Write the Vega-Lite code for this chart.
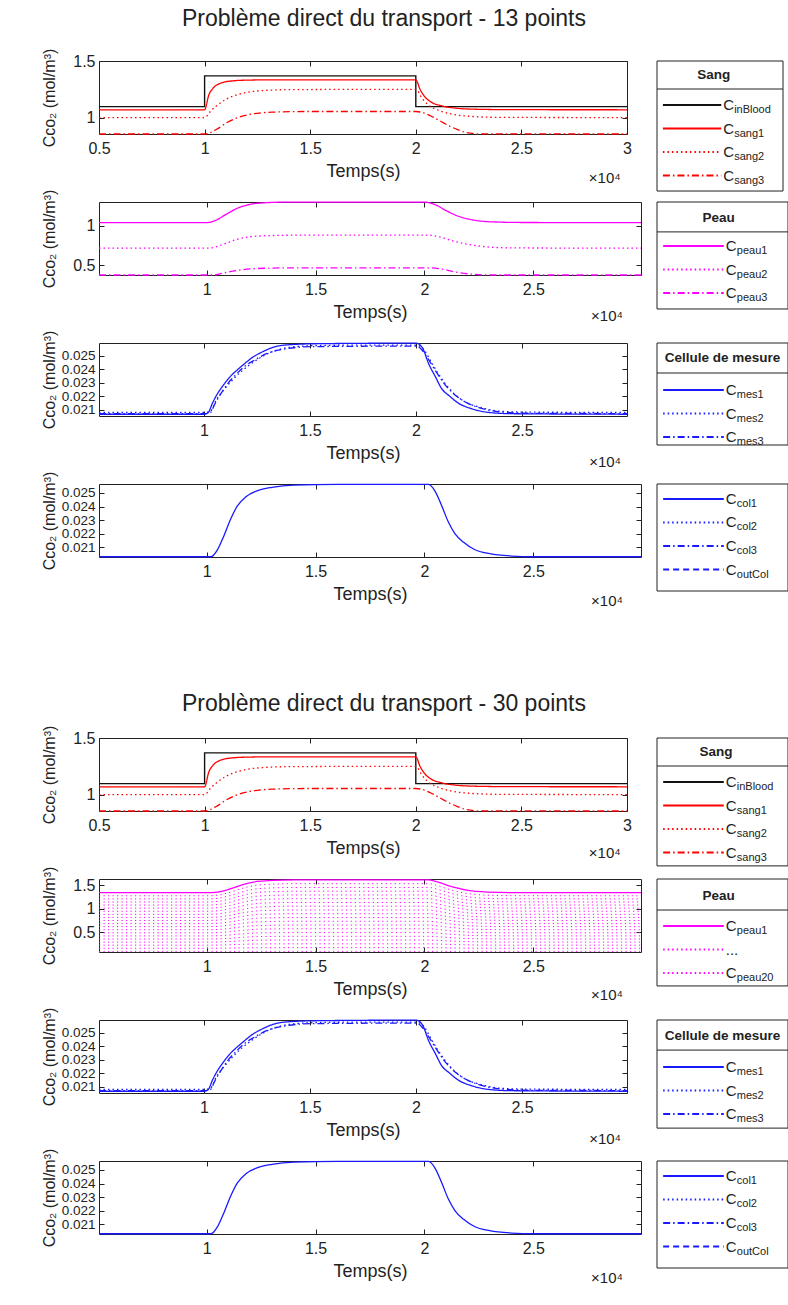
{
"$schema": "https://vega.github.io/schema/vega-lite/v6.json",
"background": "white",
"padding": {"left": 40, "top": 7, "right": 0, "bottom": 5},
"config": {
 "font": "Liberation Sans, Arial, sans-serif",
 "view": {"stroke": "#222", "strokeWidth": 1},
 "axis": {"domain": false, "grid": false, "tickSize": -5, "tickColor": "#222", "labelFontSize": 16, "labelColor": "#222", "labelOverlap": false, "labelFlush": false, "titleFontSize": 18, "titleFontWeight": "normal", "titleColor": "#222"},
 "axisX": {"labelPadding": 11, "titlePadding": 6},
 "axisY": {"labelPadding": 9, "titleFontSize": 16, "titleX": -50, "titleBaseline": "middle", "titleFont": "Liberation Sans, DejaVu Sans"},
 "line": {"strokeWidth": 1.3}
},
"datasets": {
 "inb": [{"i":0,"x":0.5,"y":1.097},{"i":1,"x":1,"y":1.097},{"i":2,"x":1,"y":1.369},{"i":3,"x":2,"y":1.369},{"i":4,"x":2,"y":1.097},{"i":5,"x":3,"y":1.097}],
 "sang": [
  {"s":"s1","x":0.5,"y":1.069},{"s":"s1","x":1,"y":1.069},{"s":"s1","x":1.02,"y":1.2},{"s":"s1","x":1.04,"y":1.26},{"s":"s1","x":1.07,"y":1.3},{"s":"s1","x":1.12,"y":1.322},{"s":"s1","x":1.2,"y":1.331},{"s":"s1","x":1.35,"y":1.334},{"s":"s1","x":2,"y":1.334},{"s":"s1","x":2.02,"y":1.25},{"s":"s1","x":2.04,"y":1.19},{"s":"s1","x":2.07,"y":1.14},{"s":"s1","x":2.12,"y":1.105},{"s":"s1","x":2.18,"y":1.085},{"s":"s1","x":2.28,"y":1.074},{"s":"s1","x":2.45,"y":1.07},{"s":"s1","x":3,"y":1.069},
  {"s":"s2","x":0.5,"y":1.0},{"s":"s2","x":1,"y":1.0},{"s":"s2","x":1.03,"y":1.06},{"s":"s2","x":1.06,"y":1.11},{"s":"s2","x":1.1,"y":1.16},{"s":"s2","x":1.16,"y":1.205},{"s":"s2","x":1.25,"y":1.235},{"s":"s2","x":1.4,"y":1.247},{"s":"s2","x":2,"y":1.25},{"s":"s2","x":2.03,"y":1.17},{"s":"s2","x":2.06,"y":1.11},{"s":"s2","x":2.1,"y":1.07},{"s":"s2","x":2.16,"y":1.035},{"s":"s2","x":2.25,"y":1.012},{"s":"s2","x":2.4,"y":1.002},{"s":"s2","x":3,"y":1.0},
  {"s":"s3","x":0.5,"y":0.855},{"s":"s3","x":1,"y":0.855},{"s":"s3","x":1.03,"y":0.87},{"s":"s3","x":1.06,"y":0.9},{"s":"s3","x":1.1,"y":0.95},{"s":"s3","x":1.15,"y":0.995},{"s":"s3","x":1.22,"y":1.03},{"s":"s3","x":1.32,"y":1.048},{"s":"s3","x":1.5,"y":1.054},{"s":"s3","x":2,"y":1.054},{"s":"s3","x":2.04,"y":1.04},{"s":"s3","x":2.08,"y":1.006},{"s":"s3","x":2.12,"y":0.965},{"s":"s3","x":2.16,"y":0.925},{"s":"s3","x":2.2,"y":0.892},{"s":"s3","x":2.24,"y":0.867},{"s":"s3","x":2.3,"y":0.856},{"s":"s3","x":3,"y":0.855}
 ],
 "peau13": [
  {"s":"p1","x":0.505,"y":1.042},{"s":"p1","x":1,"y":1.042},{"s":"p1","x":1.04,"y":1.07},{"s":"p1","x":1.09,"y":1.15},{"s":"p1","x":1.14,"y":1.225},{"s":"p1","x":1.19,"y":1.27},{"s":"p1","x":1.27,"y":1.296},{"s":"p1","x":1.38,"y":1.304},{"s":"p1","x":2,"y":1.304},{"s":"p1","x":2.05,"y":1.27},{"s":"p1","x":2.1,"y":1.195},{"s":"p1","x":2.15,"y":1.13},{"s":"p1","x":2.22,"y":1.078},{"s":"p1","x":2.31,"y":1.052},{"s":"p1","x":2.45,"y":1.044},{"s":"p1","x":2.995,"y":1.042},
  {"s":"p2","x":0.505,"y":0.717},{"s":"p2","x":1,"y":0.717},{"s":"p2","x":1.02,"y":0.72},{"s":"p2","x":1.08,"y":0.77},{"s":"p2","x":1.14,"y":0.83},{"s":"p2","x":1.2,"y":0.862},{"s":"p2","x":1.3,"y":0.878},{"s":"p2","x":1.45,"y":0.883},{"s":"p2","x":2.02,"y":0.883},{"s":"p2","x":2.07,"y":0.86},{"s":"p2","x":2.13,"y":0.81},{"s":"p2","x":2.2,"y":0.765},{"s":"p2","x":2.28,"y":0.735},{"s":"p2","x":2.4,"y":0.72},{"s":"p2","x":2.995,"y":0.717},
  {"s":"p3","x":0.505,"y":0.375},{"s":"p3","x":1.03,"y":0.375},{"s":"p3","x":1.06,"y":0.39},{"s":"p3","x":1.12,"y":0.425},{"s":"p3","x":1.2,"y":0.452},{"s":"p3","x":1.3,"y":0.463},{"s":"p3","x":1.45,"y":0.467},{"s":"p3","x":2.03,"y":0.467},{"s":"p3","x":2.08,"y":0.45},{"s":"p3","x":2.14,"y":0.415},{"s":"p3","x":2.2,"y":0.39},{"s":"p3","x":2.27,"y":0.377},{"s":"p3","x":2.35,"y":0.375},{"s":"p3","x":2.995,"y":0.375}
 ],
 "mes": [
  {"s":"m1","x":0.505,"y":0.02068},{"s":"m1","x":1,"y":0.02068},{"s":"m1","x":1.02,"y":0.0208},{"s":"m1","x":1.04,"y":0.0215},{"s":"m1","x":1.06,"y":0.0221},{"s":"m1","x":1.09,"y":0.0228},{"s":"m1","x":1.12,"y":0.0234},{"s":"m1","x":1.16,"y":0.024},{"s":"m1","x":1.19,"y":0.0244},{"s":"m1","x":1.23,"y":0.0249},{"s":"m1","x":1.27,"y":0.02525},{"s":"m1","x":1.33,"y":0.02565},{"s":"m1","x":1.4,"y":0.02582},{"s":"m1","x":1.55,"y":0.0259},{"s":"m1","x":2,"y":0.02594},{"s":"m1","x":2.03,"y":0.0256},{"s":"m1","x":2.06,"y":0.0244},{"s":"m1","x":2.09,"y":0.0235},{"s":"m1","x":2.12,"y":0.0226},{"s":"m1","x":2.16,"y":0.022},{"s":"m1","x":2.2,"y":0.0215},{"s":"m1","x":2.26,"y":0.0211},{"s":"m1","x":2.34,"y":0.02082},{"s":"m1","x":2.45,"y":0.02072},{"s":"m1","x":2.995,"y":0.02068},
  {"s":"m2","x":0.505,"y":0.02082},{"s":"m2","x":1,"y":0.02082},{"s":"m2","x":1.03,"y":0.0209},{"s":"m2","x":1.06,"y":0.0218},{"s":"m2","x":1.1,"y":0.0226},{"s":"m2","x":1.14,"y":0.0233},{"s":"m2","x":1.18,"y":0.0239},{"s":"m2","x":1.23,"y":0.0245},{"s":"m2","x":1.28,"y":0.025},{"s":"m2","x":1.35,"y":0.02545},{"s":"m2","x":1.45,"y":0.0257},{"s":"m2","x":1.6,"y":0.02578},{"s":"m2","x":2,"y":0.0258},{"s":"m2","x":2.04,"y":0.0254},{"s":"m2","x":2.07,"y":0.0246},{"s":"m2","x":2.1,"y":0.0238},{"s":"m2","x":2.14,"y":0.0229},{"s":"m2","x":2.18,"y":0.0222},{"s":"m2","x":2.23,"y":0.0216},{"s":"m2","x":2.3,"y":0.0212},{"s":"m2","x":2.4,"y":0.0209},{"s":"m2","x":2.55,"y":0.02083},{"s":"m2","x":2.995,"y":0.02082},
  {"s":"m3","x":0.505,"y":0.02073},{"s":"m3","x":1,"y":0.02073},{"s":"m3","x":1.03,"y":0.0208},{"s":"m3","x":1.05,"y":0.0214},{"s":"m3","x":1.08,"y":0.0222},{"s":"m3","x":1.11,"y":0.0229},{"s":"m3","x":1.15,"y":0.0236},{"s":"m3","x":1.19,"y":0.0242},{"s":"m3","x":1.24,"y":0.0247},{"s":"m3","x":1.3,"y":0.0252},{"s":"m3","x":1.38,"y":0.0255},{"s":"m3","x":1.5,"y":0.02568},{"s":"m3","x":2,"y":0.02572},{"s":"m3","x":2.03,"y":0.0254},{"s":"m3","x":2.06,"y":0.0247},{"s":"m3","x":2.1,"y":0.0237},{"s":"m3","x":2.13,"y":0.023},{"s":"m3","x":2.17,"y":0.0223},{"s":"m3","x":2.22,"y":0.0217},{"s":"m3","x":2.3,"y":0.02115},{"s":"m3","x":2.4,"y":0.02085},{"s":"m3","x":2.55,"y":0.02075},{"s":"m3","x":2.995,"y":0.02073}
 ],
 "col": [{"x":0.505,"y":0.02032},{"x":1.02,"y":0.02032},{"x":1.05,"y":0.02085},{"x":1.08,"y":0.0219},{"x":1.11,"y":0.02308},{"x":1.14,"y":0.02403},{"x":1.18,"y":0.02472},{"x":1.24,"y":0.0252},{"x":1.3,"y":0.02541},{"x":1.4,"y":0.02557},{"x":1.6,"y":0.02562},{"x":2.02,"y":0.02562},{"x":2.05,"y":0.02509},{"x":2.08,"y":0.02403},{"x":2.11,"y":0.02286},{"x":2.14,"y":0.02202},{"x":2.18,"y":0.02138},{"x":2.23,"y":0.02085},{"x":2.3,"y":0.02054},{"x":2.4,"y":0.02037},{"x":2.5,"y":0.02032},{"x":2.995,"y":0.02032}],
 "peau30": [
  {"x":0.505,"p1":1.34,"p2":1.275,"p3":1.209,"p4":1.144,"p5":1.079,"p6":1.014,"p7":0.948,"p8":0.883,"p9":0.818,"p10":0.753,"p11":0.687,"p12":0.622,"p13":0.557,"p14":0.492,"p15":0.426,"p16":0.361,"p17":0.296,"p18":0.231,"p19":0.165,"p20":0.1},
  {"x":1.0,"p1":1.34,"p2":1.275,"p3":1.209,"p4":1.144,"p5":1.079,"p6":1.014,"p7":0.948,"p8":0.883,"p9":0.818,"p10":0.753,"p11":0.687,"p12":0.622,"p13":0.557,"p14":0.492,"p15":0.426,"p16":0.361,"p17":0.296,"p18":0.231,"p19":0.165,"p20":0.1},
  {"x":1.04,"p1":1.348,"p2":1.283,"p3":1.216,"p4":1.151,"p5":1.085,"p6":1.02,"p7":0.954,"p8":0.888,"p9":0.823,"p10":0.757,"p11":0.691,"p12":0.625,"p13":0.56,"p14":0.495,"p15":0.428,"p16":0.363,"p17":0.297,"p18":0.232,"p19":0.165,"p20":0.1},
  {"x":1.1,"p1":1.408,"p2":1.339,"p3":1.27,"p4":1.201,"p5":1.132,"p6":1.064,"p7":0.994,"p8":0.926,"p9":0.857,"p10":0.789,"p11":0.719,"p12":0.651,"p13":0.582,"p14":0.513,"p15":0.444,"p16":0.375,"p17":0.307,"p18":0.238,"p19":0.169,"p20":0.1},
  {"x":1.17,"p1":1.516,"p2":1.441,"p3":1.366,"p4":1.292,"p5":1.218,"p6":1.143,"p7":1.068,"p8":0.994,"p9":0.919,"p10":0.845,"p11":0.77,"p12":0.696,"p13":0.621,"p14":0.547,"p15":0.472,"p16":0.398,"p17":0.324,"p18":0.249,"p19":0.174,"p20":0.1},
  {"x":1.23,"p1":1.578,"p2":1.5,"p3":1.422,"p4":1.344,"p5":1.266,"p6":1.189,"p7":1.111,"p8":1.034,"p9":0.955,"p10":0.878,"p11":0.8,"p12":0.722,"p13":0.644,"p14":0.567,"p15":0.489,"p16":0.411,"p17":0.334,"p18":0.256,"p19":0.177,"p20":0.1},
  {"x":1.3,"p1":1.599,"p2":1.521,"p3":1.441,"p4":1.362,"p5":1.284,"p6":1.205,"p7":1.126,"p8":1.047,"p9":0.968,"p10":0.889,"p11":0.81,"p12":0.731,"p13":0.652,"p14":0.574,"p15":0.494,"p16":0.416,"p17":0.337,"p18":0.258,"p19":0.178,"p20":0.1},
  {"x":1.4,"p1":1.61,"p2":1.531,"p3":1.451,"p4":1.371,"p5":1.292,"p6":1.213,"p7":1.133,"p8":1.054,"p9":0.974,"p10":0.895,"p11":0.815,"p12":0.736,"p13":0.656,"p14":0.577,"p15":0.497,"p16":0.418,"p17":0.339,"p18":0.259,"p19":0.179,"p20":0.1},
  {"x":2.02,"p1":1.61,"p2":1.531,"p3":1.451,"p4":1.371,"p5":1.292,"p6":1.213,"p7":1.133,"p8":1.054,"p9":0.974,"p10":0.895,"p11":0.815,"p12":0.736,"p13":0.656,"p14":0.577,"p15":0.497,"p16":0.418,"p17":0.339,"p18":0.259,"p19":0.179,"p20":0.1},
  {"x":2.07,"p1":1.551,"p2":1.475,"p3":1.398,"p4":1.321,"p5":1.245,"p6":1.169,"p7":1.092,"p8":1.016,"p9":0.94,"p10":0.864,"p11":0.787,"p12":0.711,"p13":0.634,"p14":0.558,"p15":0.481,"p16":0.406,"p17":0.33,"p18":0.253,"p19":0.176,"p20":0.1},
  {"x":2.13,"p1":1.462,"p2":1.39,"p3":1.318,"p4":1.246,"p5":1.175,"p6":1.104,"p7":1.031,"p8":0.96,"p9":0.888,"p10":0.817,"p11":0.745,"p12":0.673,"p13":0.602,"p14":0.53,"p15":0.458,"p16":0.387,"p17":0.315,"p18":0.244,"p19":0.171,"p20":0.1},
  {"x":2.2,"p1":1.389,"p2":1.321,"p3":1.253,"p4":1.185,"p5":1.117,"p6":1.05,"p7":0.981,"p8":0.914,"p9":0.846,"p10":0.779,"p11":0.71,"p12":0.643,"p13":0.575,"p14":0.507,"p15":0.439,"p16":0.371,"p17":0.304,"p18":0.236,"p19":0.168,"p20":0.1},
  {"x":2.29,"p1":1.354,"p2":1.288,"p3":1.221,"p4":1.155,"p5":1.09,"p6":1.024,"p7":0.957,"p8":0.892,"p9":0.826,"p10":0.76,"p11":0.693,"p12":0.628,"p13":0.562,"p14":0.496,"p15":0.43,"p16":0.364,"p17":0.298,"p18":0.232,"p19":0.166,"p20":0.1},
  {"x":2.4,"p1":1.343,"p2":1.278,"p3":1.211,"p4":1.146,"p5":1.081,"p6":1.016,"p7":0.95,"p8":0.885,"p9":0.82,"p10":0.754,"p11":0.688,"p12":0.623,"p13":0.558,"p14":0.493,"p15":0.427,"p16":0.362,"p17":0.296,"p18":0.231,"p19":0.165,"p20":0.1},
  {"x":2.995,"p1":1.34,"p2":1.275,"p3":1.209,"p4":1.144,"p5":1.079,"p6":1.014,"p7":0.948,"p8":0.883,"p9":0.818,"p10":0.753,"p11":0.687,"p12":0.622,"p13":0.557,"p14":0.492,"p15":0.426,"p16":0.361,"p17":0.296,"p18":0.231,"p19":0.165,"p20":0.1}
 ],
 "legSang": [{"r":1,"s":"in","c":"C","lab":"inBlood"},{"r":2,"s":"s1","c":"C","lab":"sang1"},{"r":3,"s":"s2","c":"C","lab":"sang2"},{"r":4,"s":"s3","c":"C","lab":"sang3"}],
 "legPeau13": [{"r":1,"s":"p1","c":"C","lab":"peau1"},{"r":2,"s":"p2","c":"C","lab":"peau2"},{"r":3,"s":"p3","c":"C","lab":"peau3"}],
 "legMes": [{"r":1,"s":"m1","c":"C","lab":"mes1"},{"r":2,"s":"m2","c":"C","lab":"mes2"},{"r":3,"s":"m3","c":"C","lab":"mes3"}],
 "legCol": [{"r":1,"s":"c1","c":"C","lab":"col1"},{"r":2,"s":"c2","c":"C","lab":"col2"},{"r":3,"s":"c3","c":"C","lab":"col3"},{"r":4,"s":"c4","c":"C","lab":"outCol"}],
 "legPeau30": [{"r":1,"s":"a","c":"C","lab":"peau1"},{"r":2,"s":"b","c":"...","lab":""},{"r":3,"s":"b","c":"C","lab":"peau20"}]
},
"columns": 2,
"spacing": {"row": 68, "column": 16},
"bounds": "flush",
"align": "each",
"resolve": {"scale": {"x": "independent", "y": "independent", "color": "independent", "strokeDash": "independent"}},
"concat": [
 {"width": 528, "height": 73,
  "title": {"text": "Problème direct du transport - 13 points", "fontSize": 23, "fontWeight": "normal", "color": "#222", "anchor": "middle", "frame": "group", "dx": 21, "offset": -1, "baseline": "alphabetic"},
  "resolve": {"axis": {"x": "independent", "y": "independent"}},
  "layer": [
   {"data": {"name": "inb"}, "mark": {"type": "line", "color": "#111", "strokeWidth": 1.4},
    "encoding": {"x": {"field": "x", "type": "quantitative", "scale": {"domain": [0.5, 3], "nice": false, "zero": false}, "axis": {"values": [0.5,1,1.5,2,2.5,3], "format": "~g", "title": "Temps(s)"}},
     "y": {"field": "y", "type": "quantitative", "scale": {"domain": [0.855, 1.5], "nice": false, "zero": false}, "axis": {"values": [1,1.5], "format": "~g", "title": "Cᴄᴏ₂ (mol/m³)"}},
     "order": {"field": "i", "type": "quantitative"}}},
   {"data": {"name": "sang"}, "mark": {"type": "line", "color": "#ff0000", "interpolate": "monotone"},
    "encoding": {"x": {"field": "x", "type": "quantitative", "axis": null}, "y": {"field": "y", "type": "quantitative", "axis": null},
     "strokeDash": {"field": "s", "type": "nominal", "scale": {"domain": ["s1","s2","s3"], "range": [[1,0],[1.5,3],[7,3,1.5,3]]}, "legend": null}}},
   {"data": {"values": [{}]}, "mark": {"type": "text", "text": "×10⁴", "align": "right", "baseline": "middle", "fontSize": 15, "color": "#222"},
    "encoding": {"x": {"datum": 2.97, "type": "quantitative", "axis": {"orient": "top", "labels": false, "title": null, "values": [0.5,1,1.5,2,2.5,3]}},
     "y": {"datum": 0.466, "type": "quantitative", "axis": {"orient": "right", "labels": false, "title": null, "values": [1,1.5]}}}}
  ]},
 {"width": 126, "height": 73, "view": {"stroke": null},
  "layer": [
   {"data": {"values": [{}]}, "mark": {"type": "rect", "fill": "white", "stroke": "#222", "strokeWidth": 1},
    "encoding": {"x": {"datum": 0, "type": "quantitative", "scale": {"domain": [0, 1], "nice": false, "zero": false}, "axis": null}, "x2": {"datum": 1},
     "y": {"datum": -0.872, "type": "quantitative", "scale": {"domain": [-0.872, 2.234], "reverse": true, "nice": false, "zero": false}, "axis": null}, "y2": {"datum": 4.66}}},
   {"data": {"values": [{}]}, "mark": {"type": "text", "text": "Sang", "fontWeight": "bold", "fontSize": 13.5, "color": "#222", "baseline": "middle"},
    "encoding": {"x": {"datum": 0.45, "type": "quantitative"}, "y": {"datum": -0.27, "type": "quantitative"}}},
   {"data": {"values": [{}]}, "mark": {"type": "rule", "color": "#222"},
    "encoding": {"x": {"datum": 0, "type": "quantitative"}, "x2": {"datum": 1}, "y": {"datum": 0.32, "type": "quantitative"}}},
   {"data": {"name": "legSang"}, "mark": {"type": "rule", "strokeWidth": 1.8},
    "encoding": {"x": {"datum": 0.047, "type": "quantitative"}, "x2": {"datum": 0.51}, "y": {"field": "r", "type": "quantitative"},
     "color": {"field": "s", "type": "nominal", "scale": {"domain": ["in","s1","s2","s3"], "range": ["#111","#ff0000","#ff0000","#ff0000"]}, "legend": null},
     "strokeDash": {"field": "s", "type": "nominal", "scale": {"domain": ["in","s1","s2","s3"], "range": [[1,0],[1,0],[1.5,3],[7,3,1.5,3]]}, "legend": null}}},
   {"data": {"name": "legSang"}, "mark": {"type": "text", "align": "left", "baseline": "middle", "fontSize": 15, "color": "#222"},
    "encoding": {"x": {"datum": 0.525, "type": "quantitative"}, "y": {"field": "r", "type": "quantitative"}, "text": {"field": "c"}}},
   {"data": {"name": "legSang"}, "mark": {"type": "text", "align": "left", "baseline": "middle", "fontSize": 11, "dx": 11, "dy": 5, "color": "#222"},
    "encoding": {"x": {"datum": 0.525, "type": "quantitative"}, "y": {"field": "r", "type": "quantitative"}, "text": {"field": "lab"}}}
  ]},
 {"width": 542, "height": 73,
  "resolve": {"axis": {"x": "independent", "y": "independent"}},
  "layer": [
   {"data": {"name": "peau13"}, "mark": {"type": "line", "color": "#ff00ff", "interpolate": "monotone"},
    "encoding": {"x": {"field": "x", "type": "quantitative", "scale": {"domain": [0.505, 2.995], "nice": false, "zero": false}, "axis": {"values": [1,1.5,2,2.5], "format": "~g", "title": "Temps(s)"}},
     "y": {"field": "y", "type": "quantitative", "scale": {"domain": [0.375, 1.305], "nice": false, "zero": false}, "axis": {"values": [0.5,1], "format": "~g", "title": "Cᴄᴏ₂ (mol/m³)"}},
     "strokeDash": {"field": "s", "type": "nominal", "scale": {"domain": ["p1","p2","p3"], "range": [[1,0],[1.5,3],[7,3,1.5,3]]}, "legend": null}}},
   {"data": {"values": [{}]}, "mark": {"type": "text", "text": "×10⁴", "align": "right", "baseline": "middle", "fontSize": 15, "color": "#222"},
    "encoding": {"x": {"datum": 2.912, "type": "quantitative", "axis": {"orient": "top", "labels": false, "title": null, "values": [1,1.5,2,2.5]}},
     "y": {"datum": -0.147, "type": "quantitative", "axis": {"orient": "right", "labels": false, "title": null, "values": [0.5,1]}}}}
  ]},
 {"width": 131, "height": 73, "view": {"stroke": null},
  "layer": [
   {"data": {"values": [{}]}, "mark": {"type": "rect", "fill": "white", "stroke": "#222", "strokeWidth": 1},
    "encoding": {"x": {"datum": 0, "type": "quantitative", "scale": {"domain": [0, 1], "nice": false, "zero": false}, "axis": null}, "x2": {"datum": 1},
     "y": {"datum": -0.872, "type": "quantitative", "scale": {"domain": [-0.872, 2.234], "reverse": true, "nice": false, "zero": false}, "axis": null}, "y2": {"datum": 3.68}}},
   {"data": {"values": [{}]}, "mark": {"type": "text", "text": "Peau", "fontWeight": "bold", "fontSize": 13.5, "color": "#222", "baseline": "middle"},
    "encoding": {"x": {"datum": 0.47, "type": "quantitative"}, "y": {"datum": -0.2, "type": "quantitative"}}},
   {"data": {"values": [{}]}, "mark": {"type": "rule", "color": "#222"},
    "encoding": {"x": {"datum": 0, "type": "quantitative"}, "x2": {"datum": 1}, "y": {"datum": 0.4, "type": "quantitative"}}},
   {"data": {"name": "legPeau13"}, "mark": {"type": "rule", "strokeWidth": 1.8, "color": "#ff00ff"},
    "encoding": {"x": {"datum": 0.047, "type": "quantitative"}, "x2": {"datum": 0.51}, "y": {"field": "r", "type": "quantitative"},
     "strokeDash": {"field": "s", "type": "nominal", "scale": {"domain": ["p1","p2","p3"], "range": [[1,0],[1.5,3],[7,3,1.5,3]]}, "legend": null}}},
   {"data": {"name": "legPeau13"}, "mark": {"type": "text", "align": "left", "baseline": "middle", "fontSize": 15, "color": "#222"},
    "encoding": {"x": {"datum": 0.525, "type": "quantitative"}, "y": {"field": "r", "type": "quantitative"}, "text": {"field": "c"}}},
   {"data": {"name": "legPeau13"}, "mark": {"type": "text", "align": "left", "baseline": "middle", "fontSize": 11, "dx": 11, "dy": 5, "color": "#222"},
    "encoding": {"x": {"datum": 0.525, "type": "quantitative"}, "y": {"field": "r", "type": "quantitative"}, "text": {"field": "lab"}}}
  ]},
 {"width": 528, "height": 73,
  "resolve": {"axis": {"x": "independent", "y": "independent"}},
  "layer": [
   {"data": {"name": "mes"}, "mark": {"type": "line", "color": "#1a1aff", "interpolate": "monotone"},
    "encoding": {"x": {"field": "x", "type": "quantitative", "scale": {"domain": [0.505, 2.995], "nice": false, "zero": false}, "axis": {"values": [1,1.5,2,2.5], "format": "~g", "title": "Temps(s)"}},
     "y": {"field": "y", "type": "quantitative", "scale": {"domain": [0.02055, 0.02595], "nice": false, "zero": false}, "axis": {"values": [0.021,0.022,0.023,0.024,0.025], "format": "~g", "labelFontSize": 13.5, "title": "Cᴄᴏ₂ (mol/m³)"}},
     "strokeDash": {"field": "s", "type": "nominal", "scale": {"domain": ["m1","m2","m3"], "range": [[1,0],[1.5,3],[7,3,1.5,3]]}, "legend": null}}},
   {"data": {"values": [{}]}, "mark": {"type": "text", "text": "×10⁴", "align": "right", "baseline": "middle", "fontSize": 15, "color": "#222"},
    "encoding": {"x": {"datum": 2.967, "type": "quantitative", "axis": {"orient": "top", "labels": false, "title": null, "values": [1,1.5,2,2.5]}},
     "y": {"datum": 0.01715, "type": "quantitative", "axis": {"orient": "right", "labels": false, "title": null, "values": [0.021,0.022,0.023,0.024,0.025]}}}}
  ]},
 {"width": 131, "height": 73, "view": {"stroke": null},
  "layer": [
   {"data": {"values": [{}]}, "mark": {"type": "rect", "fill": "white", "stroke": "#222", "strokeWidth": 1},
    "encoding": {"x": {"datum": 0, "type": "quantitative", "scale": {"domain": [0, 1], "nice": false, "zero": false}, "axis": null}, "x2": {"datum": 1},
     "y": {"datum": -1.0, "type": "quantitative", "scale": {"domain": [-1.0, 2.106], "reverse": true, "nice": false, "zero": false}, "axis": null}, "y2": {"datum": 3.34}}},
   {"data": {"values": [{}]}, "mark": {"type": "text", "text": "Cellule de mesure", "fontWeight": "bold", "fontSize": 13.5, "color": "#222", "baseline": "middle"},
    "encoding": {"x": {"datum": 0.5, "type": "quantitative"}, "y": {"datum": -0.36, "type": "quantitative"}}},
   {"data": {"values": [{}]}, "mark": {"type": "rule", "color": "#222"},
    "encoding": {"x": {"datum": 0, "type": "quantitative"}, "x2": {"datum": 1}, "y": {"datum": 0.277, "type": "quantitative"}}},
   {"data": {"name": "legMes"}, "mark": {"type": "rule", "strokeWidth": 1.8, "color": "#1a1aff"},
    "encoding": {"x": {"datum": 0.047, "type": "quantitative"}, "x2": {"datum": 0.51}, "y": {"field": "r", "type": "quantitative"},
     "strokeDash": {"field": "s", "type": "nominal", "scale": {"domain": ["m1","m2","m3"], "range": [[1,0],[1.5,3],[7,3,1.5,3]]}, "legend": null}}},
   {"data": {"name": "legMes"}, "mark": {"type": "text", "align": "left", "baseline": "middle", "fontSize": 15, "color": "#222"},
    "encoding": {"x": {"datum": 0.525, "type": "quantitative"}, "y": {"field": "r", "type": "quantitative"}, "text": {"field": "c"}}},
   {"data": {"name": "legMes"}, "mark": {"type": "text", "align": "left", "baseline": "middle", "fontSize": 11, "dx": 11, "dy": 5, "color": "#222"},
    "encoding": {"x": {"datum": 0.525, "type": "quantitative"}, "y": {"field": "r", "type": "quantitative"}, "text": {"field": "lab"}}}
  ]},
 {"width": 542, "height": 73,
  "resolve": {"axis": {"x": "independent", "y": "independent"}},
  "layer": [
   {"data": {"name": "col"}, "mark": {"type": "line", "color": "#1a1aff", "interpolate": "monotone"},
    "encoding": {"x": {"field": "x", "type": "quantitative", "scale": {"domain": [0.505, 2.995], "nice": false, "zero": false}, "axis": {"values": [1,1.5,2,2.5], "format": "~g", "title": "Temps(s)"}},
     "y": {"field": "y", "type": "quantitative", "scale": {"domain": [0.0203, 0.02565], "nice": false, "zero": false}, "axis": {"values": [0.021,0.022,0.023,0.024,0.025], "format": "~g", "labelFontSize": 13.5, "title": "Cᴄᴏ₂ (mol/m³)"}}}},
   {"data": {"values": [{}]}, "mark": {"type": "text", "text": "×10⁴", "align": "right", "baseline": "middle", "fontSize": 15, "color": "#222"},
    "encoding": {"x": {"datum": 2.912, "type": "quantitative", "axis": {"orient": "top", "labels": false, "title": null, "values": [1,1.5,2,2.5]}},
     "y": {"datum": 0.017075, "type": "quantitative", "axis": {"orient": "right", "labels": false, "title": null, "values": [0.021,0.022,0.023,0.024,0.025]}}}}
  ]},
 {"width": 131, "height": 73, "view": {"stroke": null},
  "layer": [
   {"data": {"values": [{}]}, "mark": {"type": "rect", "fill": "white", "stroke": "#222", "strokeWidth": 1},
    "encoding": {"x": {"datum": 0, "type": "quantitative", "scale": {"domain": [0, 1], "nice": false, "zero": false}, "axis": null}, "x2": {"datum": 1},
     "y": {"datum": 0.362, "type": "quantitative", "scale": {"domain": [0.362, 3.468], "reverse": true, "nice": false, "zero": false}, "axis": null}, "y2": {"datum": 4.915}}},
   {"data": {"name": "legCol"}, "mark": {"type": "rule", "strokeWidth": 1.8, "color": "#1a1aff"},
    "encoding": {"x": {"datum": 0.047, "type": "quantitative"}, "x2": {"datum": 0.51}, "y": {"field": "r", "type": "quantitative"},
     "strokeDash": {"field": "s", "type": "nominal", "scale": {"domain": ["c1","c2","c3","c4"], "range": [[1,0],[1.5,3],[7,3,1.5,3],[6,4]]}, "legend": null}}},
   {"data": {"name": "legCol"}, "mark": {"type": "text", "align": "left", "baseline": "middle", "fontSize": 15, "color": "#222"},
    "encoding": {"x": {"datum": 0.525, "type": "quantitative"}, "y": {"field": "r", "type": "quantitative"}, "text": {"field": "c"}}},
   {"data": {"name": "legCol"}, "mark": {"type": "text", "align": "left", "baseline": "middle", "fontSize": 11, "dx": 11, "dy": 5, "color": "#222"},
    "encoding": {"x": {"datum": 0.525, "type": "quantitative"}, "y": {"field": "r", "type": "quantitative"}, "text": {"field": "lab"}}}
  ]},
 {"width": 10, "height": 45, "view": {"stroke": null}, "data": {"values": [{}]}, "mark": {"type": "text", "text": " "}, "encoding": {}},
 {"width": 10, "height": 45, "view": {"stroke": null}, "data": {"values": [{}]}, "mark": {"type": "text", "text": " "}, "encoding": {}},
 {"width": 528, "height": 73,
  "title": {"text": "Problème direct du transport - 30 points", "fontSize": 23, "fontWeight": "normal", "color": "#222", "anchor": "middle", "frame": "group", "dx": 21, "offset": -9, "baseline": "alphabetic"},
  "resolve": {"axis": {"x": "independent", "y": "independent"}},
  "layer": [
   {"data": {"name": "inb"}, "mark": {"type": "line", "color": "#111", "strokeWidth": 1.4},
    "encoding": {"x": {"field": "x", "type": "quantitative", "scale": {"domain": [0.5, 3], "nice": false, "zero": false}, "axis": {"values": [0.5,1,1.5,2,2.5,3], "format": "~g", "title": "Temps(s)"}},
     "y": {"field": "y", "type": "quantitative", "scale": {"domain": [0.855, 1.5], "nice": false, "zero": false}, "axis": {"values": [1,1.5], "format": "~g", "title": "Cᴄᴏ₂ (mol/m³)"}},
     "order": {"field": "i", "type": "quantitative"}}},
   {"data": {"name": "sang"}, "mark": {"type": "line", "color": "#ff0000", "interpolate": "monotone"},
    "encoding": {"x": {"field": "x", "type": "quantitative", "axis": null}, "y": {"field": "y", "type": "quantitative", "axis": null},
     "strokeDash": {"field": "s", "type": "nominal", "scale": {"domain": ["s1","s2","s3"], "range": [[1,0],[1.5,3],[7,3,1.5,3]]}, "legend": null}}},
   {"data": {"values": [{}]}, "mark": {"type": "text", "text": "×10⁴", "align": "right", "baseline": "middle", "fontSize": 15, "color": "#222"},
    "encoding": {"x": {"datum": 2.97, "type": "quantitative", "axis": {"orient": "top", "labels": false, "title": null, "values": [0.5,1,1.5,2,2.5,3]}},
     "y": {"datum": 0.48, "type": "quantitative", "axis": {"orient": "right", "labels": false, "title": null, "values": [1,1.5]}}}}
  ]},
 {"width": 131, "height": 73, "view": {"stroke": null},
  "layer": [
   {"data": {"values": [{}]}, "mark": {"type": "rect", "fill": "white", "stroke": "#222", "strokeWidth": 1},
    "encoding": {"x": {"datum": 0, "type": "quantitative", "scale": {"domain": [0, 1], "nice": false, "zero": false}, "axis": null}, "x2": {"datum": 1},
     "y": {"datum": -0.872, "type": "quantitative", "scale": {"domain": [-0.872, 2.234], "reverse": true, "nice": false, "zero": false}, "axis": null}, "y2": {"datum": 4.57}}},
   {"data": {"values": [{}]}, "mark": {"type": "text", "text": "Sang", "fontWeight": "bold", "fontSize": 13.5, "color": "#222", "baseline": "middle"},
    "encoding": {"x": {"datum": 0.45, "type": "quantitative"}, "y": {"datum": -0.27, "type": "quantitative"}}},
   {"data": {"values": [{}]}, "mark": {"type": "rule", "color": "#222"},
    "encoding": {"x": {"datum": 0, "type": "quantitative"}, "x2": {"datum": 1}, "y": {"datum": 0.32, "type": "quantitative"}}},
   {"data": {"name": "legSang"}, "mark": {"type": "rule", "strokeWidth": 1.8},
    "encoding": {"x": {"datum": 0.047, "type": "quantitative"}, "x2": {"datum": 0.51}, "y": {"field": "r", "type": "quantitative"},
     "color": {"field": "s", "type": "nominal", "scale": {"domain": ["in","s1","s2","s3"], "range": ["#111","#ff0000","#ff0000","#ff0000"]}, "legend": null},
     "strokeDash": {"field": "s", "type": "nominal", "scale": {"domain": ["in","s1","s2","s3"], "range": [[1,0],[1,0],[1.5,3],[7,3,1.5,3]]}, "legend": null}}},
   {"data": {"name": "legSang"}, "mark": {"type": "text", "align": "left", "baseline": "middle", "fontSize": 15, "color": "#222"},
    "encoding": {"x": {"datum": 0.525, "type": "quantitative"}, "y": {"field": "r", "type": "quantitative"}, "text": {"field": "c"}}},
   {"data": {"name": "legSang"}, "mark": {"type": "text", "align": "left", "baseline": "middle", "fontSize": 11, "dx": 11, "dy": 5, "color": "#222"},
    "encoding": {"x": {"datum": 0.525, "type": "quantitative"}, "y": {"field": "r", "type": "quantitative"}, "text": {"field": "lab"}}}
  ]},
 {"width": 542, "height": 73,
  "resolve": {"axis": {"x": "independent", "y": "independent"}},
  "layer": [
   {"data": {"name": "peau30"}, "transform": [{"fold": ["p2","p3","p4","p5","p6","p7","p8","p9","p10","p11","p12","p13","p14","p15","p16","p17","p18","p19","p20"], "as": ["k","y"]}],
    "mark": {"type": "line", "color": "#ff00ff", "strokeWidth": 1, "strokeDash": [1.2, 3.3], "interpolate": "monotone"},
    "encoding": {"x": {"field": "x", "type": "quantitative", "scale": {"domain": [0.505, 2.995], "nice": false, "zero": false}, "axis": {"values": [1,1.5,2,2.5], "format": "~g", "title": "Temps(s)"}},
     "y": {"field": "y", "type": "quantitative", "scale": {"domain": [0.086, 1.63], "nice": false, "zero": false}, "axis": {"values": [0.5,1,1.5], "format": "~g", "title": "Cᴄᴏ₂ (mol/m³)"}},
     "detail": {"field": "k", "type": "nominal"}}},
   {"data": {"name": "peau30"}, "mark": {"type": "line", "color": "#ff00ff", "interpolate": "monotone"},
    "encoding": {"x": {"field": "x", "type": "quantitative", "axis": null}, "y": {"field": "p1", "type": "quantitative", "axis": null}}},
   {"data": {"values": [{}]}, "mark": {"type": "text", "text": "×10⁴", "align": "right", "baseline": "middle", "fontSize": 15, "color": "#222"},
    "encoding": {"x": {"datum": 2.912, "type": "quantitative", "axis": {"orient": "top", "labels": false, "title": null, "values": [1,1.5,2,2.5]}},
     "y": {"datum": -0.8235, "type": "quantitative", "axis": {"orient": "right", "labels": false, "title": null, "values": [0.5,1,1.5]}}}}
  ]},
 {"width": 131, "height": 73, "view": {"stroke": null},
  "layer": [
   {"data": {"values": [{}]}, "mark": {"type": "rect", "fill": "white", "stroke": "#222", "strokeWidth": 1},
    "encoding": {"x": {"datum": 0, "type": "quantitative", "scale": {"domain": [0, 1], "nice": false, "zero": false}, "axis": null}, "x2": {"datum": 1},
     "y": {"datum": -1.0, "type": "quantitative", "scale": {"domain": [-1.0, 2.106], "reverse": true, "nice": false, "zero": false}, "axis": null}, "y2": {"datum": 3.55}}},
   {"data": {"values": [{}]}, "mark": {"type": "text", "text": "Peau", "fontWeight": "bold", "fontSize": 13.5, "color": "#222", "baseline": "middle"},
    "encoding": {"x": {"datum": 0.47, "type": "quantitative"}, "y": {"datum": -0.28, "type": "quantitative"}}},
   {"data": {"values": [{}]}, "mark": {"type": "rule", "color": "#222"},
    "encoding": {"x": {"datum": 0, "type": "quantitative"}, "x2": {"datum": 1}, "y": {"datum": 0.32, "type": "quantitative"}}},
   {"data": {"name": "legPeau30"}, "mark": {"type": "rule", "strokeWidth": 1.8, "color": "#ff00ff"},
    "encoding": {"x": {"datum": 0.047, "type": "quantitative"}, "x2": {"datum": 0.51}, "y": {"field": "r", "type": "quantitative"},
     "strokeDash": {"field": "s", "type": "nominal", "scale": {"domain": ["a","b"], "range": [[1,0],[1.5,3]]}, "legend": null}}},
   {"data": {"name": "legPeau30"}, "mark": {"type": "text", "align": "left", "baseline": "middle", "fontSize": 15, "color": "#222"},
    "encoding": {"x": {"datum": 0.525, "type": "quantitative"}, "y": {"field": "r", "type": "quantitative"}, "text": {"field": "c"}}},
   {"data": {"name": "legPeau30"}, "mark": {"type": "text", "align": "left", "baseline": "middle", "fontSize": 11, "dx": 11, "dy": 5, "color": "#222"},
    "encoding": {"x": {"datum": 0.525, "type": "quantitative"}, "y": {"field": "r", "type": "quantitative"}, "text": {"field": "lab"}}}
  ]},
 {"width": 528, "height": 73,
  "resolve": {"axis": {"x": "independent", "y": "independent"}},
  "layer": [
   {"data": {"name": "mes"}, "mark": {"type": "line", "color": "#1a1aff", "interpolate": "monotone"},
    "encoding": {"x": {"field": "x", "type": "quantitative", "scale": {"domain": [0.505, 2.995], "nice": false, "zero": false}, "axis": {"values": [1,1.5,2,2.5], "format": "~g", "title": "Temps(s)"}},
     "y": {"field": "y", "type": "quantitative", "scale": {"domain": [0.02055, 0.02595], "nice": false, "zero": false}, "axis": {"values": [0.021,0.022,0.023,0.024,0.025], "format": "~g", "labelFontSize": 13.5, "title": "Cᴄᴏ₂ (mol/m³)"}},
     "strokeDash": {"field": "s", "type": "nominal", "scale": {"domain": ["m1","m2","m3"], "range": [[1,0],[1.5,3],[7,3,1.5,3]]}, "legend": null}}},
   {"data": {"values": [{}]}, "mark": {"type": "text", "text": "×10⁴", "align": "right", "baseline": "middle", "fontSize": 15, "color": "#222"},
    "encoding": {"x": {"datum": 2.967, "type": "quantitative", "axis": {"orient": "top", "labels": false, "title": null, "values": [1,1.5,2,2.5]}},
     "y": {"datum": 0.01715, "type": "quantitative", "axis": {"orient": "right", "labels": false, "title": null, "values": [0.021,0.022,0.023,0.024,0.025]}}}}
  ]},
 {"width": 131, "height": 73, "view": {"stroke": null},
  "layer": [
   {"data": {"values": [{}]}, "mark": {"type": "rect", "fill": "white", "stroke": "#222", "strokeWidth": 1},
    "encoding": {"x": {"datum": 0, "type": "quantitative", "scale": {"domain": [0, 1], "nice": false, "zero": false}, "axis": null}, "x2": {"datum": 1},
     "y": {"datum": -1.0, "type": "quantitative", "scale": {"domain": [-1.0, 2.106], "reverse": true, "nice": false, "zero": false}, "axis": null}, "y2": {"datum": 3.6}}},
   {"data": {"values": [{}]}, "mark": {"type": "text", "text": "Cellule de mesure", "fontWeight": "bold", "fontSize": 13.5, "color": "#222", "baseline": "middle"},
    "encoding": {"x": {"datum": 0.5, "type": "quantitative"}, "y": {"datum": -0.32, "type": "quantitative"}}},
   {"data": {"values": [{}]}, "mark": {"type": "rule", "color": "#222"},
    "encoding": {"x": {"datum": 0, "type": "quantitative"}, "x2": {"datum": 1}, "y": {"datum": 0.28, "type": "quantitative"}}},
   {"data": {"name": "legMes"}, "mark": {"type": "rule", "strokeWidth": 1.8, "color": "#1a1aff"},
    "encoding": {"x": {"datum": 0.047, "type": "quantitative"}, "x2": {"datum": 0.51}, "y": {"field": "r", "type": "quantitative"},
     "strokeDash": {"field": "s", "type": "nominal", "scale": {"domain": ["m1","m2","m3"], "range": [[1,0],[1.5,3],[7,3,1.5,3]]}, "legend": null}}},
   {"data": {"name": "legMes"}, "mark": {"type": "text", "align": "left", "baseline": "middle", "fontSize": 15, "color": "#222"},
    "encoding": {"x": {"datum": 0.525, "type": "quantitative"}, "y": {"field": "r", "type": "quantitative"}, "text": {"field": "c"}}},
   {"data": {"name": "legMes"}, "mark": {"type": "text", "align": "left", "baseline": "middle", "fontSize": 11, "dx": 11, "dy": 5, "color": "#222"},
    "encoding": {"x": {"datum": 0.525, "type": "quantitative"}, "y": {"field": "r", "type": "quantitative"}, "text": {"field": "lab"}}}
  ]},
 {"width": 542, "height": 73,
  "resolve": {"axis": {"x": "independent", "y": "independent"}},
  "layer": [
   {"data": {"name": "col"}, "mark": {"type": "line", "color": "#1a1aff", "interpolate": "monotone"},
    "encoding": {"x": {"field": "x", "type": "quantitative", "scale": {"domain": [0.505, 2.995], "nice": false, "zero": false}, "axis": {"values": [1,1.5,2,2.5], "format": "~g", "title": "Temps(s)"}},
     "y": {"field": "y", "type": "quantitative", "scale": {"domain": [0.0203, 0.02565], "nice": false, "zero": false}, "axis": {"values": [0.021,0.022,0.023,0.024,0.025], "format": "~g", "labelFontSize": 13.5, "title": "Cᴄᴏ₂ (mol/m³)"}}}},
   {"data": {"values": [{}]}, "mark": {"type": "text", "text": "×10⁴", "align": "right", "baseline": "middle", "fontSize": 15, "color": "#222"},
    "encoding": {"x": {"datum": 2.912, "type": "quantitative", "axis": {"orient": "top", "labels": false, "title": null, "values": [1,1.5,2,2.5]}},
     "y": {"datum": 0.017075, "type": "quantitative", "axis": {"orient": "right", "labels": false, "title": null, "values": [0.021,0.022,0.023,0.024,0.025]}}}}
  ]},
 {"width": 131, "height": 73, "view": {"stroke": null},
  "layer": [
   {"data": {"values": [{}]}, "mark": {"type": "rect", "fill": "white", "stroke": "#222", "strokeWidth": 1},
    "encoding": {"x": {"datum": 0, "type": "quantitative", "scale": {"domain": [0, 1], "nice": false, "zero": false}, "axis": null}, "x2": {"datum": 1},
     "y": {"datum": 0.362, "type": "quantitative", "scale": {"domain": [0.362, 3.468], "reverse": true, "nice": false, "zero": false}, "axis": null}, "y2": {"datum": 4.915}}},
   {"data": {"name": "legCol"}, "mark": {"type": "rule", "strokeWidth": 1.8, "color": "#1a1aff"},
    "encoding": {"x": {"datum": 0.047, "type": "quantitative"}, "x2": {"datum": 0.51}, "y": {"field": "r", "type": "quantitative"},
     "strokeDash": {"field": "s", "type": "nominal", "scale": {"domain": ["c1","c2","c3","c4"], "range": [[1,0],[1.5,3],[7,3,1.5,3],[6,4]]}, "legend": null}}},
   {"data": {"name": "legCol"}, "mark": {"type": "text", "align": "left", "baseline": "middle", "fontSize": 15, "color": "#222"},
    "encoding": {"x": {"datum": 0.525, "type": "quantitative"}, "y": {"field": "r", "type": "quantitative"}, "text": {"field": "c"}}},
   {"data": {"name": "legCol"}, "mark": {"type": "text", "align": "left", "baseline": "middle", "fontSize": 11, "dx": 11, "dy": 5, "color": "#222"},
    "encoding": {"x": {"datum": 0.525, "type": "quantitative"}, "y": {"field": "r", "type": "quantitative"}, "text": {"field": "lab"}}}
  ]}
]
}
